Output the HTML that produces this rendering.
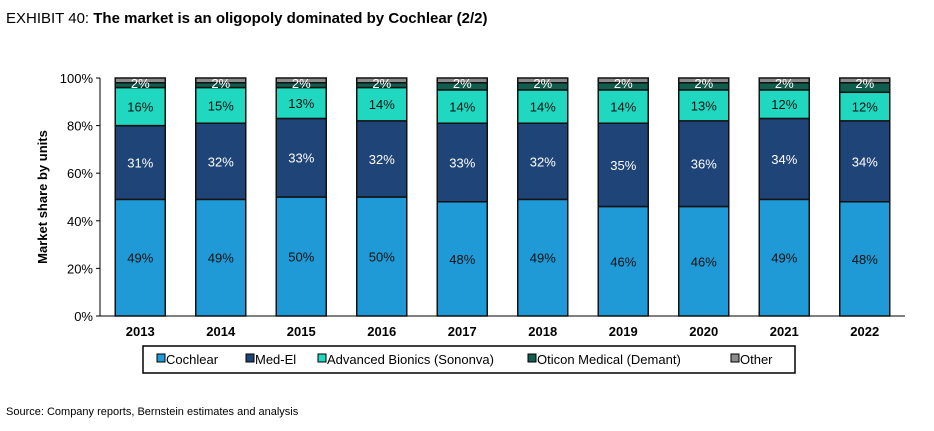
<!DOCTYPE html>
<html><head><meta charset="utf-8"><style>
body{margin:0;background:#fff;font-family:"Liberation Sans",Arial,sans-serif;}
#wrap{position:relative;width:934px;height:431px;overflow:hidden;}
</style></head><body>
<div id="wrap">
<div style="position:absolute;left:6px;top:10px;font-size:15px;color:#000;">EXHIBIT 40: <b>The market is an oligopoly dominated by Cochlear (2/2)</b></div>
<svg id="chart" width="934" height="431" style="position:absolute;left:0;top:0"></svg>
<div style="position:absolute;left:6px;top:406px;font-size:11px;color:#000;">Source: Company reports, Bernstein estimates and analysis</div>
</div>
<script>
const years=["2013","2014","2015","2016","2017","2018","2019","2020","2021","2022"];
const cochlear=[49,49,50,50,48,49,46,46,49,48];
const medel=[31,32,33,32,33,32,35,36,34,34];
const ab=[16,15,13,14,14,14,14,13,12,12];
const oticon=[2,2,2,2,3,3,3,3,3,4];
const other=[2,2,2,2,2,2,2,2,2,2];
const yTicks=[0,20,40,60,80,100];
const seriesNames=["Cochlear","Med-El","Advanced Bionics (Sononva)","Oticon Medical (Demant)","Other"];
const colors=["#1f9ad6","#1f4478","#20d8c0","#0f5e4e","#8c8c8c"];
const series=[cochlear,medel,ab,oticon,other];
const NS="http://www.w3.org/2000/svg";
const svg=document.getElementById('chart');
const x0=100,x1=905,yB=316,yT=78;
const y=v=>yB-(v/100)*(yB-yT);
const step=(x1-x0)/years.length;
const xc=i=>x0+step*(i+0.5);
const bw=50;
function mk(t,a){const e=document.createElementNS(NS,t);for(const k in a)e.setAttribute(k,a[k]);svg.appendChild(e);return e;}
let ax=mk('line',{x1:x0,y1:yT,x2:x0,y2:yB,stroke:'#000','stroke-width':1});


let bx=mk('line',{x1:x0,y1:yB,x2:x1,y2:yB,stroke:'#000','stroke-width':1});


yTicks.forEach(t=>{
 let tk=mk('line',{x1:x0-4,y1:y(t),x2:x0,y2:y(t),stroke:'#000'});
 
 
 let tl=mk('text',{x:x0-7,y:y(t)+5,'text-anchor':'end','font-size':13,fill:'#000'});
 tl.textContent=t+'%';
 
 
});
let yt=mk('text',{x:0,y:0,'font-size':13,'font-weight':'bold',transform:'translate(47,197) rotate(-90)','text-anchor':'middle'});
yt.textContent='Market share by units';


years.forEach((yr,i)=>{
 let cum=0;
 series.forEach((s,k)=>{
  const v=s[i];
  const r=mk('rect',{x:xc(i)-bw/2,y:y(cum+v),width:bw,height:y(cum)-y(cum+v),fill:colors[k],stroke:'#111','stroke-width':1.5});
  
  
  if(k<3){
   const lt=mk('text',{x:xc(i),y:(y(cum)+y(cum+v))/2+5,'text-anchor':'middle','font-size':13,fill:k==1?'#fff':'#111'});
   lt.textContent=v+'%';
   
   
  }
  cum+=v;
 });
 const ol=mk('text',{x:xc(i),y:y(100-other[i])+5,'text-anchor':'middle','font-size':13,fill:'#fff'});
 ol.textContent=other[i]+'%';
 
 
 const xl=mk('text',{x:xc(i),y:yB+20,'text-anchor':'middle','font-size':13,'font-weight':'bold'});
 xl.textContent=yr;
 
 
});
let lg=mk('rect',{x:143,y:346,width:652,height:27,fill:'#fff',stroke:'#000','stroke-width':1.5});


const lx=[166,255,327,537,740];
seriesNames.forEach((n,k)=>{
 let sw=mk('rect',{x:lx[k]-9,y:354,width:8,height:8,fill:colors[k],stroke:'#000','stroke-width':1});
 
 
 let t=mk('text',{x:lx[k],y:364,'font-size':13});
 t.textContent=n;
 
 
});
</script>
</body></html>
